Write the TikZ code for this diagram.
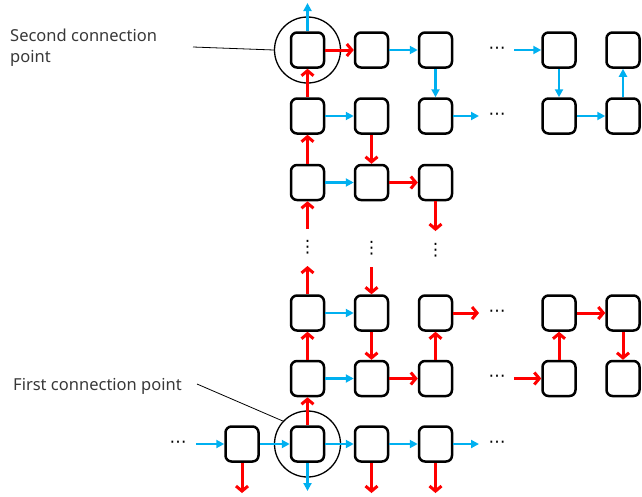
\documentclass[tikz,border=0pt]{standalone}
\usepackage{fontspec}
\setmainfont{Noto Sans}
\newfontfamily\symfont{DejaVu Sans}
\usetikzlibrary{arrows.meta}
\definecolor{skyblue}{RGB}{0,176,240}
\definecolor{notegray}{RGB}{56,56,56}

\begin{document}
\begin{tikzpicture}
[
    x=1pt, y=-1pt,
    cell/.style={draw, line width=2.5pt, rounded corners=6pt, minimum width=33pt, minimum height=35pt, inner sep=0pt},
    redarr/.style={red, line width=3pt, -{Straight Barb[length=5pt,width=12pt]}},
    bluearr/.style={skyblue, line width=2.5pt, -{Triangle[length=8pt,width=8pt]}},
    ring/.style={draw, circle, line width=1.3pt, minimum size=66pt, inner sep=0pt},
    note/.style={text=notegray, font=\fontsize{16.5}{21}\selectfont, align=left, anchor=base west, inner sep=0pt},
    dots/.style={font=\symfont\fontsize{17}{17}\selectfont, inner sep=0pt},
]
\useasboundingbox (0,0) rectangle (642,496);

\node [cell] (a1) at (307.5,50) {};
\node [cell] (a2) at (371.5,50) {};
\node [cell] (a3) at (435.5,50) {};
\node [cell] (b1) at (307.5,116) {};
\node [cell] (b2) at (371.5,116) {};
\node [cell] (b3) at (435.5,116) {};
\node [cell] (c1) at (307.5,182.5) {};
\node [cell] (c2) at (371.5,182.5) {};
\node [cell] (c3) at (435.5,182.5) {};

\node [cell] (ra) at (559,50) {};
\node [cell] (rb) at (623,50) {};
\node [cell] (sa) at (559,116) {};
\node [cell] (sb) at (623,116) {};

\node [cell] (d1) at (307.5,313) {};
\node [cell] (d2) at (371.5,313) {};
\node [cell] (d3) at (435.5,313) {};
\node [cell] (e1) at (307.5,378.5) {};
\node [cell] (e2) at (371.5,378.5) {};
\node [cell] (e3) at (435.5,378.5) {};
\node [cell] (f0) at (242,444) {};
\node [cell] (f1) at (307.5,444) {};
\node [cell] (f2) at (371.5,444) {};
\node [cell] (f3) at (435.5,444) {};

\node [cell] (ua) at (559,313) {};
\node [cell] (ub) at (623,313) {};
\node [cell] (va) at (559,378.5) {};
\node [cell] (vb) at (623,378.5) {};

\node [ring] (cp2) at (a1) {};
\node [ring] (cp1) at (f1) {};

\node [dots] (h1) at (497,50) {⋯};
\node [dots] (h2) at (497,116) {⋯};
\node [dots] (h3) at (497,313) {⋯};
\node [dots] (h4) at (497,378.5) {⋯};
\node [dots] (h5) at (497,444) {⋯};
\node [dots] (h6) at (178,444) {⋯};
\node [dots] (v1) at (307.5,247) {⋮};
\node [dots] (v2) at (371.5,248) {⋮};
\node [dots] (v3) at (435.5,250) {⋮};

\coordinate (topout) at (307.5,3);
\coordinate (b3out) at (479,116);
\coordinate (c3out) at (435.5,231);
\coordinate (c1in) at (307.5,229);
\coordinate (rain) at (514,50);
\coordinate (d1out) at (307.5,266);
\coordinate (d2in) at (371.5,267);
\coordinate (d3out) at (479,313);
\coordinate (vain) at (514,378.5);
\coordinate (f0in) at (196,444);
\coordinate (f3out) at (479,444);
\coordinate (f0out) at (242,493);
\coordinate (f1out) at (307.5,491);
\coordinate (f2out) at (371.5,493);
\coordinate (f3down) at (435.5,493);

\draw [bluearr] (a1) -- (topout);
\draw [redarr] (a1) -- (a2);
\draw [bluearr] (a2) -- (a3);
\draw [bluearr] (a3) -- (b3);
\draw [bluearr] (b3) -- (b3out);
\draw [redarr] (b1) -- (a1);
\draw [bluearr] (b1) -- (b2);
\draw [redarr] (b2) -- (c2);
\draw [redarr] (c1) -- (b1);
\draw [bluearr] (c1) -- (c2);
\draw [redarr] (c2) -- (c3);
\draw [redarr] (c3) -- (c3out);
\draw [redarr] (c1in) -- (c1);

\draw [bluearr] (rain) -- (ra);
\draw [bluearr] (ra) -- (sa);
\draw [bluearr] (sa) -- (sb);
\draw [bluearr] (sb) -- (rb);

\draw [redarr] (d1) -- (d1out);
\draw [redarr] (d2in) -- (d2);
\draw [bluearr] (d1) -- (d2);
\draw [redarr] (d3) -- (d3out);
\draw [redarr] (e1) -- (d1);
\draw [redarr] (d2) -- (e2);
\draw [redarr] (e3) -- (d3);
\draw [bluearr] (e1) -- (e2);
\draw [redarr] (e2) -- (e3);
\draw [redarr] (f1) -- (e1);

\draw [redarr] (ua) -- (ub);
\draw [redarr] (ub) -- (vb);
\draw [redarr] (va) -- (ua);
\draw [redarr] (vain) -- (va);

\draw [bluearr] (f0in) -- (f0);
\draw [bluearr] (f0) -- (f1);
\draw [bluearr] (f1) -- (f2);
\draw [bluearr] (f2) -- (f3);
\draw [bluearr] (f3) -- (f3out);
\draw [redarr] (f0) -- (f0out);
\draw [bluearr] (f1) -- (f1out);
\draw [redarr] (f2) -- (f2out);
\draw [redarr] (f3) -- (f3down);

\node [note] (second) at (10,62.7) {Second connection\\point};
\node [note] (first) at (13,390.7) {First connection point};
\coordinate (lead2) at (193,47);
\coordinate (lead1) at (197,384);
\draw [line width=0.8pt] (lead2) -- (cp2.west);
\draw [line width=0.8pt] (lead1) -- (cp1.137);
\end{tikzpicture}
\end{document}
